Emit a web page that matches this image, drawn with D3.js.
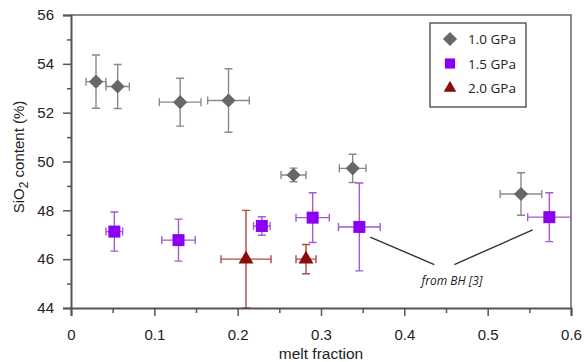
<!DOCTYPE html>
<html>
<head>
<meta charset="utf-8">
<script src="https://cdn.jsdelivr.net/npm/d3@7"></script>
<style>
  body { margin: 0; background: #fff; }
  svg { display: block; }
</style>
</head>
<body>
<div id="chart"></div>
<script>
// 1.0 GPa
const melt10 = [0.030, 0.056, 0.131, 0.189, 0.267, 0.338, 0.540];
const sio210 = [53.27, 53.07, 52.43, 52.5, 49.45, 49.72, 48.67];
const xErr10 = [0.012, 0.014, 0.025, 0.025, 0.015, 0.016, 0.025];
const yErr10 = [1.09, 0.9, 0.98, 1.3, 0.28, 0.58, 0.87];

// 1.5 GPa
const melt15 = [0.052, 0.129, 0.229, 0.290, 0.346, 0.574];
const sio215 = [47.13, 46.78, 47.36, 47.7, 47.32, 47.72];
const xErr15 = [0.010, 0.020, 0.010, 0.020, 0.025, 0.026];
const yErr15 = [0.8, 0.86, 0.38, 1.02, 1.8, 1.0];

// 2.0 GPa
const melt20 = [0.21, 0.282];
const sio220 = [46.0, 46.0];
const xErr20 = [0.03, 0.012];
const yErr20 = [2.0, 0.6];

const xTicks = [0, 0.1, 0.2, 0.3, 0.4, 0.5, 0.6];
const yTicks = [44, 46, 48, 50, 52, 54, 56];
const legendLabels = ["1.0 GPa", "1.5 GPa", "2.0 GPa"];

const width = 587, height = 362;
const margin = { left: 71, right: 16, top: 15, bottom: 54 };

const x = d3.scaleLinear().domain([0, 0.6]).range([margin.left, width - margin.right]);
const y = d3.scaleLinear().domain([44, 56]).range([height - margin.bottom, margin.top]);

const svg = d3.select("#chart").append("svg")
    .attr("width", width)
    .attr("height", height);

svg.append("defs").append("clipPath").attr("id", "plot-clip")
    .append("rect")
    .attr("x", x(0)).attr("y", y(56))
    .attr("width", x(0.6) - x(0)).attr("height", y(44) - y(56));

// frame top/right
svg.append("path")
    .attr("d", `M${x(0)},${y(56)}H${x(0.6)}V${y(44)}`)
    .attr("fill", "none")
    .attr("stroke", "#666")
    .attr("stroke-width", 1.5);

const series = [
    { melt: melt10, sio2: sio210, xe: xErr10, ye: yErr10, fill: "#676767", err: "#8a8a8a", shape: "diamond" },
    { melt: melt15, sio2: sio215, xe: xErr15, ye: yErr15, fill: "#8c00f2", err: "#a45ad6", shape: "square" },
    { melt: melt20, sio2: sio220, xe: xErr20, ye: yErr20, fill: "#8b0a0a", err: "#b14848", shape: "triangle" }
];

function symbolPath(shape) {
    if (shape === "diamond") return d3.symbol().type(d3.symbolSquare).size(100)();
    if (shape === "square") return d3.symbol().type(d3.symbolSquare).size(144)();
    return d3.symbol().type(d3.symbolTriangle).size(95)();
}

const plot = svg.append("g").attr("clip-path", "url(#plot-clip)");
const cap = 4;

series.forEach(s => {
    const pts = s.melt.map((m, i) => ({ x: m, y: s.sio2[i], xe: s.xe[i], ye: s.ye[i] }));
    const g = plot.append("g");
    g.selectAll(".err").data(pts).enter().append("path")
        .attr("fill", "none")
        .attr("stroke", s.err)
        .attr("stroke-width", 1.4)
        .attr("d", d => {
            const cx = x(d.x), cy = y(d.y);
            const x0 = x(d.x - d.xe), x1 = x(d.x + d.xe);
            const y0 = y(d.y + d.ye), y1 = y(d.y - d.ye);
            return `M${x0},${cy}H${x1}M${x0},${cy - cap}V${cy + cap}M${x1},${cy - cap}V${cy + cap}` +
                `M${cx},${y0}V${y1}M${cx - cap},${y0}H${cx + cap}M${cx - cap},${y1}H${cx + cap}`;
        });
    g.selectAll(".pt").data(pts).enter().append("path")
        .attr("d", symbolPath(s.shape))
        .attr("fill", s.fill)
        .attr("transform", d => `translate(${x(d.x)},${y(d.y)})` + (s.shape === "diamond" ? " rotate(45)" : ""));
});

// axes
svg.append("g")
    .attr("transform", `translate(${x(0)},0)`)
    .call(d3.axisLeft(y).tickValues(yTicks).tickSize(8).tickPadding(9).tickFormat(d3.format("d")));
svg.append("g")
    .attr("transform", `translate(${x(0)},0)`)
    .call(d3.axisLeft(y).tickValues(d3.range(45, 56, 2)).tickSize(4).tickFormat(""))
    .select(".domain").remove();

svg.append("g")
    .attr("transform", `translate(0,${y(44)})`)
    .call(d3.axisBottom(x).tickValues(xTicks).tickSize(8).tickPadding(13).tickFormat(d => d === 0 ? "0" : d3.format(".1f")(d)));
svg.append("g")
    .attr("transform", `translate(0,${y(44)})`)
    .call(d3.axisBottom(x).tickValues(d3.range(0.05, 0.6, 0.1)).tickSize(5).tickFormat(""))
    .select(".domain").remove();

svg.selectAll(".domain").attr("stroke", "#555").attr("stroke-width", 2);
svg.selectAll(".tick line").attr("stroke", "#555").attr("stroke-width", 1.5);
svg.selectAll(".tick text")
    .attr("fill", "#222")
    .style("font-family", "'Liberation Sans', Arial, sans-serif")
    .style("font-size", "15px");

// axis titles
svg.append("text")
    .attr("x", 321).attr("y", 359)
    .attr("text-anchor", "middle")
    .style("font-family", "'Liberation Sans', Arial, sans-serif")
    .style("font-size", "15.5px")
    .attr("fill", "#222")
    .text("melt fraction");

const yt = svg.append("text")
    .attr("transform", `translate(24,157) rotate(-90)`)
    .attr("text-anchor", "middle")
    .style("font-family", "'Liberation Sans', Arial, sans-serif")
    .style("font-size", "15px")
    .attr("fill", "#222");
yt.append("tspan").text("SiO");
yt.append("tspan").attr("dy", 4).style("font-size", "12px").text("2");
yt.append("tspan").attr("dy", -4).text(" content (%)");

// annotation
svg.append("text")
    .attr("x", 452).attr("y", 285)
    .attr("text-anchor", "middle")
    .style("font-family", "'Open Sans', sans-serif")
    .style("font-style", "italic")
    .style("font-size", "12px")
    .attr("fill", "#222")
    .text("from BH [3]");
svg.append("path")
    .attr("d", `M${x(0.359)},${y(46.9)}L${x(0.436)},${y(45.78)}M${x(0.460)},${y(45.78)}L${x(0.554)},${y(47.2)}`)
    .attr("stroke", "#333")
    .attr("stroke-width", 1.4);

// legend
const legend = svg.append("g").attr("transform", "translate(430,23)");
legend.append("rect")
    .attr("width", 96).attr("height", 84)
    .attr("fill", "#fff")
    .attr("stroke", "#444")
    .attr("stroke-width", 1.3);
legendLabels.forEach((lab, i) => {
    const s = series[i];
    const item = legend.append("g").attr("transform", `translate(0,${16 + i * 24.5})`);
    item.append("path")
        .attr("d", symbolPath(s.shape))
        .attr("fill", s.fill)
        .attr("transform", "translate(20,0)" + (s.shape === "diamond" ? " rotate(45)" : " scale(0.85)"));
    item.append("text")
        .attr("x", 38).attr("y", 5)
        .style("font-family", "'Open Sans', sans-serif")
        .style("font-size", "13.5px")
        .attr("fill", "#222")
        .text(lab);
});
</script>
</body>
</html>
